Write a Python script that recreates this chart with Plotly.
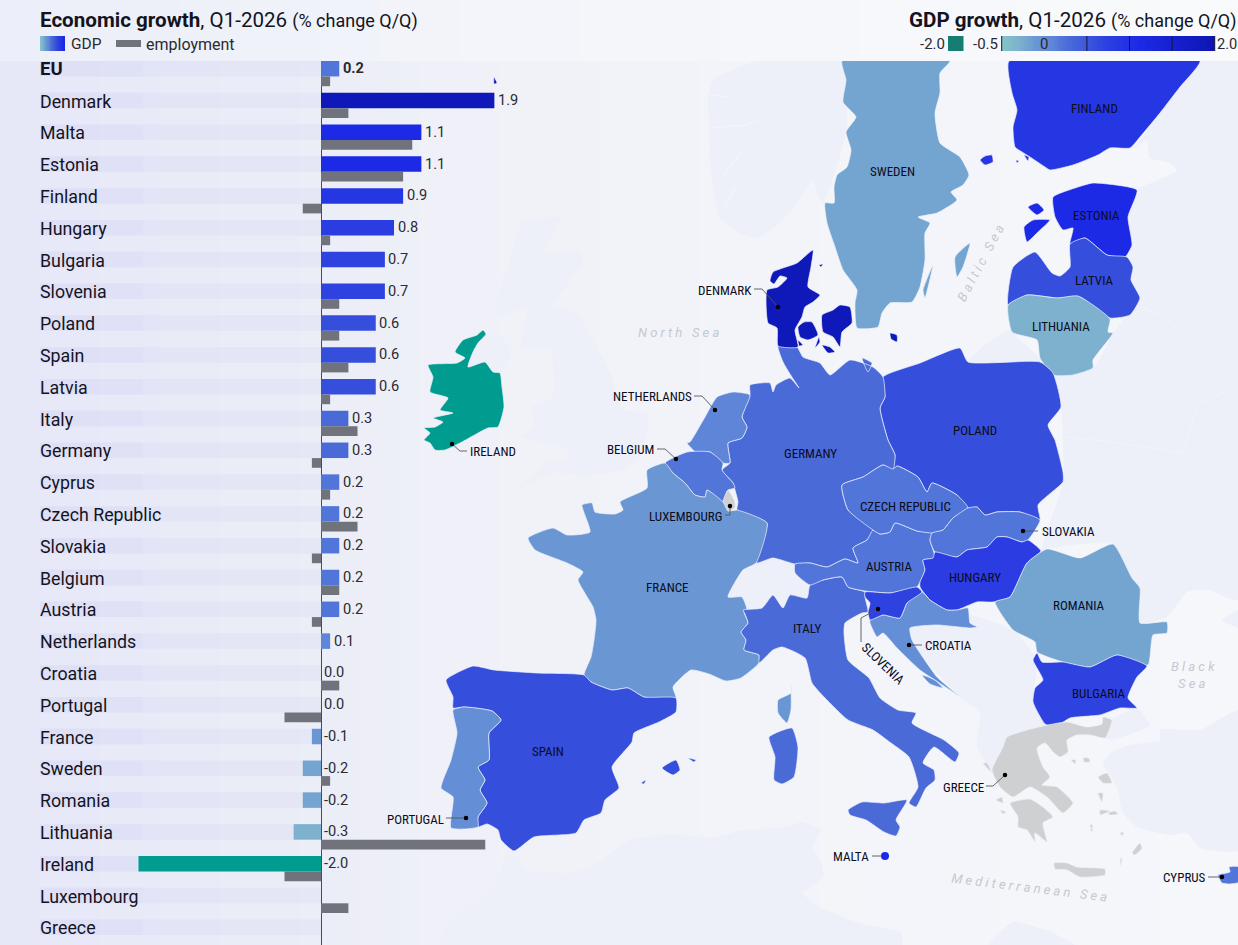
import plotly.graph_objects as go

# ---- bar chart data (% change Q/Q) ----
countries = ["EU", "Denmark", "Malta", "Estonia", "Finland", "Hungary", "Bulgaria", "Slovenia",
             "Poland", "Spain", "Latvia", "Italy", "Germany", "Cyprus", "Czech Republic", "Slovakia",
             "Belgium", "Austria", "Netherlands", "Croatia", "Portugal", "France", "Sweden",
             "Romania", "Lithuania", "Ireland", "Luxembourg", "Greece"]
gdp = [0.2, 1.9, 1.1, 1.1, 0.9, 0.8, 0.7, 0.7, 0.6, 0.6, 0.6, 0.3, 0.3, 0.2, 0.2, 0.2, 0.2, 0.2,
       0.1, 0.0, 0.0, -0.1, -0.2, -0.2, -0.3, -2.0, None, None]
employment = [0.1, 0.3, 1.0, 0.9, -0.2, 0.1, None, 0.2, 0.2, 0.3, 0.1, 0.4, -0.1, 0.1, 0.4, -0.1,
              0.2, -0.1, None, 0.2, -0.4, None, 0.1, None, 1.8, -0.4, 0.3, None]
gdp_by_country = dict(zip(countries, gdp))

# ---- colour ramp used by bars, map and legend ----
ramp_stops = [(-0.5, "#84c6c8"), (-0.3, "#7eb1cd"), (-0.2, "#73a5d0"), (-0.1, "#6a97d3"),
              (0.1, "#5e85d7"), (0.2, "#5175d9"), (0.3, "#4a6ad8"), (0.6, "#354fdc"),
              (0.7, "#2e42e0"), (1.1, "#1c2ae6"), (1.9, "#0f18b8"), (2.0, "#0c12b0")]
LOW_COLOUR = "#009c8f"
NO_DATA_COLOUR = "#cfd0d2"
GREY_BAR = "#70727c"
INK = "#14141f"


def hex_rgb(h):
    return tuple(int(h[i:i + 2], 16) for i in (1, 3, 5))


def value_colour(v):
    if v is None:
        return NO_DATA_COLOUR
    if v < -0.5:
        return LOW_COLOUR
    for (a, ca), (b, cb) in zip(ramp_stops, ramp_stops[1:]):
        if a <= v <= b:
            t = (v - a) / (b - a)
            r = [round(p + (q - p) * t) for p, q in zip(hex_rgb(ca), hex_rgb(cb))]
            return "rgb({},{},{})".format(*r)
    return ramp_stops[-1][1]


# ---- outlines of the map, in map units (x right, y down) ----
finland = [[(1009, 61), (1012, 93), (1017, 110), (1013, 127), (1015, 147), (1022, 152), (1030, 157), (1045, 167),
            (1050, 170), (1073, 165), (1098, 155), (1110, 148), (1130, 148), (1140, 137), (1160, 113), (1180, 87),
            (1200, 61)],
           [(980, 160), (985, 156), (992, 155), (993, 162), (985, 165)],
           [(1024, 155), (1029, 157), (1028, 161)],
           [(1016, 160), (1019, 161), (1017, 163)]]
sweden = [[(842, 61), (846, 80), (843, 102), (856, 117), (846, 132), (851, 150), (847, 167), (837, 175), (834, 187),
           (834, 203), (825, 203), (827, 223), (835, 247), (843, 270), (857, 290), (855, 303), (857, 328), (878, 327),
           (882, 313), (890, 303), (912, 302), (920, 287), (925, 260), (925, 233), (930, 223), (918, 217), (937, 213),
           (957, 200), (951, 192), (963, 185), (969, 175), (960, 157), (940, 143), (935, 113), (940, 93), (940, 73),
           (950, 61)],
          [(955, 257), (970, 243), (963, 267), (957, 277)],
          [(933, 265), (925, 298), (923, 290)]]
estonia = [[(1053, 197), (1075, 188), (1093, 183), (1137, 190), (1128, 217), (1132, 245), (1125, 257), (1107, 255),
            (1085, 238), (1070, 244), (1073, 228), (1063, 230), (1055, 217)],
           [(1028, 207), (1037, 203), (1044, 210), (1037, 215)],
           [(1024, 227), (1033, 220), (1050, 220), (1037, 233), (1027, 242)]]
latvia = [[(1008, 305), (1013, 267), (1035, 252), (1052, 273), (1060, 276), (1070, 267), (1070, 244), (1085, 238),
           (1107, 255), (1127, 257), (1133, 267), (1131, 280), (1140, 298), (1130, 315), (1110, 318), (1080, 297),
           (1057, 298), (1027, 295)]]
lithuania = [[(1008, 305), (1027, 295), (1057, 298), (1078, 296), (1110, 319), (1108, 332), (1113, 333), (1093, 360),
              (1093, 368), (1073, 375), (1053, 375), (1040, 358), (1037, 340), (1012, 332)]]
poland = [[(883, 377), (920, 363), (960, 348), (968, 362), (1040, 362), (1053, 373), (1061, 407), (1048, 425),
           (1055, 440), (1063, 472), (1063, 482), (1038, 505), (1040, 520), (1020, 512), (997, 512), (985, 515),
           (977, 507), (968, 508), (957, 495), (932, 483), (927, 492), (918, 477), (897, 466), (893, 470), (895, 455),
           (888, 440), (880, 408), (885, 397)]]
germany = [[(778, 346), (797, 347), (803, 357), (820, 363), (830, 375), (850, 360), (873, 367), (883, 377), (885, 397),
            (880, 408), (888, 440), (895, 455), (893, 470), (883, 465), (863, 477), (842, 485), (848, 510), (873, 530),
            (867, 540), (853, 548), (858, 563), (845, 559), (827, 567), (810, 563), (795, 564), (773, 558), (756, 563),
            (767, 523), (737, 510), (738, 502), (735, 490), (733, 483), (722, 470), (730, 463), (728, 443), (742, 438),
            (747, 427), (742, 417), (750, 395), (750, 385), (770, 383), (773, 392), (776, 385), (790, 378), (799, 388),
            (790, 374), (783, 362)],
           [(862, 358), (872, 363), (868, 372)]]
netherlands = [[(750, 395), (733, 392), (717, 397), (705, 417), (690, 442), (687, 443), (697, 453), (710, 452),
                (723, 463), (730, 463), (728, 443), (742, 438), (747, 427), (742, 417)]]
belgium = [[(665, 463), (687, 452), (710, 452), (723, 463), (722, 470), (733, 483), (735, 488), (728, 490), (723, 502),
            (707, 490), (705, 497), (695, 495), (685, 483), (673, 473)]]
luxembourg = [[(728, 490), (735, 502), (735, 508), (728, 511), (723, 502)]]
france = [[(665, 463), (647, 470), (647, 488), (620, 502), (623, 510), (615, 514), (595, 512), (592, 503), (582, 505),
           (590, 532), (567, 535), (553, 528), (528, 538), (535, 550), (567, 563), (583, 572), (578, 580), (593, 607),
           (596, 620), (594, 640), (591, 657), (584, 675), (591, 682), (612, 690), (628, 688), (644, 697), (676, 698),
           (673, 687), (691, 670), (709, 674), (726, 681), (741, 678), (759, 663), (759, 655), (744, 650), (746, 640),
           (741, 632), (748, 623), (744, 612), (747, 610), (742, 597), (728, 597), (743, 570), (756, 563), (767, 523),
           (737, 510), (728, 511), (723, 502), (707, 490), (705, 497), (695, 495), (685, 483), (673, 473)],
          [(791, 685), (791, 693), (778, 700), (778, 713), (787, 723), (791, 710)]]
spain = [[(446, 680), (473, 666), (494, 670), (537, 673), (584, 675), (591, 682), (612, 690), (628, 688), (644, 697),
          (676, 698), (676, 712), (659, 722), (634, 733), (632, 742), (612, 767), (619, 788), (605, 800), (601, 813),
          (584, 820), (576, 833), (534, 837), (514, 851), (501, 840), (498, 830), (487, 824), (478, 827), (478, 817),
          (487, 803), (480, 790), (485, 780), (478, 767), (489, 760), (489, 733), (501, 720), (492, 711), (464, 707),
          (453, 708), (453, 697)],
         [(662, 768), (676, 760), (680, 770), (673, 775)],
         [(688, 758), (696, 760), (694, 762)],
         [(641, 783), (646, 780), (644, 784)]]
portugal = [[(464, 707), (492, 711), (501, 720), (489, 733), (489, 760), (478, 767), (485, 780), (480, 790), (487, 803),
             (478, 817), (478, 827), (451, 828), (453, 797), (441, 788), (451, 760), (457, 733), (453, 710)]]
italy = [[(743, 610), (762, 608), (773, 595), (783, 608), (790, 595), (807, 598), (810, 585), (823, 580), (842, 577),
          (848, 587), (865, 592), (865, 597), (868, 612), (862, 613), (845, 623), (844, 633), (848, 660), (869, 678),
          (880, 698), (898, 710), (916, 713), (912, 723), (944, 740), (959, 753), (955, 762), (934, 747), (923, 763),
          (934, 770), (935, 780), (926, 788), (916, 807), (909, 803), (918, 787), (909, 757), (891, 743), (873, 730),
          (848, 720), (825, 698), (812, 683), (805, 658), (782, 647), (773, 650), (759, 663), (759, 655), (744, 650),
          (746, 640), (741, 632), (748, 623), (744, 612)],
         [(769, 737), (792, 728), (798, 747), (794, 777), (782, 784), (774, 780), (775, 757)],
         [(848, 810), (862, 802), (884, 803), (907, 800), (896, 820), (900, 827), (896, 836), (884, 832), (866, 820),
          (850, 815)]]
austria = [[(853, 548), (867, 540), (873, 530), (880, 534), (890, 532), (895, 523), (917, 531), (932, 533), (930, 540),
            (935, 558), (923, 560), (925, 570), (920, 582), (917, 587), (890, 593), (865, 591), (848, 587), (842, 577),
            (823, 580), (810, 585), (795, 573), (795, 564), (810, 563), (827, 567), (845, 559), (858, 563)]]
czech_republic = [[(842, 485), (863, 477), (883, 465), (893, 469), (897, 466), (918, 477), (927, 492), (932, 483),
                   (957, 495), (968, 508), (953, 518), (943, 530), (932, 533), (917, 531), (895, 523), (890, 532),
                   (880, 534), (873, 530), (848, 510)]]
slovakia = [[(968, 508), (977, 507), (985, 515), (997, 512), (1020, 512), (1040, 520), (1028, 540), (1022, 542),
             (1007, 537), (997, 537), (987, 547), (967, 550), (957, 557), (935, 552), (930, 540), (932, 533),
             (943, 530), (953, 518)]]
hungary = [[(935, 552), (957, 557), (967, 550), (987, 547), (997, 537), (1007, 537), (1022, 542), (1028, 540),
            (1041, 551), (1027, 563), (1010, 597), (993, 602), (977, 602), (957, 610), (947, 610), (930, 600),
            (920, 587), (920, 582), (925, 570), (923, 560), (933, 558)]]
romania = [[(1047, 549), (1080, 558), (1113, 544), (1132, 578), (1140, 588), (1140, 623), (1167, 622), (1167, 633),
            (1153, 635), (1148, 665), (1117, 655), (1090, 667), (1063, 662), (1037, 652), (1035, 642), (1013, 630),
            (995, 602), (1010, 597), (1027, 563)]]
bulgaria = [[(1037, 653), (1042, 662), (1063, 662), (1090, 667), (1117, 655), (1147, 666), (1137, 677), (1128, 698),
             (1137, 708), (1120, 708), (1100, 715), (1070, 718), (1055, 727), (1045, 724), (1033, 702), (1035, 688),
             (1043, 680), (1033, 660)]]
croatia = [[(870, 620), (883, 615), (900, 618), (907, 603), (922, 592), (930, 600), (947, 610), (957, 610), (968, 608),
            (970, 623), (977, 627), (970, 628), (937, 625), (910, 628), (912, 640), (920, 653), (937, 677), (960, 697),
            (950, 690), (920, 670), (897, 648), (883, 633), (877, 637), (870, 623)],
           [(922, 675), (935, 680), (943, 688), (930, 684)]]
slovenia = [[(865, 597), (865, 592), (890, 593), (917, 587), (922, 592), (907, 603), (900, 618), (883, 615), (870, 620),
             (868, 612), (870, 603)]]
denmark = [[(813, 250), (811, 267), (808, 287), (820, 295), (813, 302), (805, 307), (802, 317), (795, 330), (798, 347),
            (778, 346), (777, 328), (768, 323), (767, 290), (778, 287), (787, 278), (780, 276), (774, 284), (770, 281),
            (773, 272), (797, 263)],
           [(798, 327), (804, 322), (812, 322), (818, 335), (808, 340), (800, 337)],
           [(822, 315), (833, 310), (840, 305), (850, 307), (852, 323), (842, 332), (840, 347), (833, 337), (823, 332)],
           [(822, 345), (830, 347), (835, 352), (828, 353)],
           [(815, 348), (819, 337), (820, 342)],
           [(798, 340), (803, 345), (799, 346)],
           [(890, 333), (897, 335), (897, 342), (891, 339)],
           [(819, 265), (823, 264), (821, 267)],
           [(494, 77), (497, 83), (494, 84)]]
ireland = [[(428, 365), (457, 363), (465, 358), (455, 352), (463, 340), (477, 335), (483, 330), (486, 334), (478, 343),
            (473, 352), (468, 367), (485, 362), (493, 372), (500, 373), (502, 387), (504, 407), (498, 427), (488, 428),
            (462, 442), (445, 450), (435, 450), (430, 443), (424, 440), (430, 433), (424, 428), (435, 427), (443, 422),
            (433, 418), (453, 413), (440, 410), (448, 398), (430, 392), (433, 377)]]
greece = [[(1043, 726), (1067, 722), (1087, 727), (1102, 724), (1103, 717), (1112, 720), (1110, 728), (1105, 738),
           (1090, 735), (1077, 735), (1067, 740), (1068, 752), (1060, 757), (1053, 752), (1045, 743), (1037, 748),
           (1043, 767), (1050, 777), (1042, 785), (1057, 787), (1073, 803), (1063, 813), (1047, 797), (1030, 787),
           (1013, 797), (1000, 787), (992, 770), (1003, 747), (1007, 737), (1027, 730)],
          [(1010, 803), (1030, 799), (1043, 807), (1053, 817), (1043, 823), (1047, 842), (1035, 833), (1035, 842),
           (1027, 830), (1018, 827), (1018, 817)],
          [(1054, 863), (1067, 863), (1077, 867), (1105, 869), (1105, 875), (1080, 877), (1067, 870), (1055, 869)],
          [(1098, 777), (1107, 773), (1112, 783), (1103, 783)],
          [(1098, 793), (1103, 793), (1102, 802)],
          [(1132, 853), (1140, 843), (1142, 848), (1135, 855)],
          [(983, 763), (987, 763), (992, 773)],
          [(996, 800), (1002, 797), (1003, 803)],
          [(1000, 810), (1006, 812), (1003, 814)],
          [(1071, 760), (1076, 760), (1075, 764)],
          [(1083, 758), (1089, 758), (1090, 762), (1084, 762)],
          [(1100, 810), (1110, 811), (1100, 815)],
          [(1108, 813), (1115, 811), (1118, 814), (1110, 815)],
          [(1090, 825), (1093, 825), (1091, 830)],
          [(1120, 833), (1124, 832), (1122, 836)],
          [(1090, 829), (1093, 827), (1092, 832)],
          [(1120, 860), (1122, 857), (1121, 866)]]
cyprus = [[(1218, 875), (1230, 872), (1229, 867), (1240, 867), (1240, 882), (1230, 884), (1222, 883)]]

# Countries outside the EU, drawn pale underneath
norway = [[(757, 61), (733, 70), (713, 80), (708, 100), (710, 127), (710, 157), (713, 183), (720, 217), (740, 233),
           (757, 238), (780, 223), (797, 203), (813, 180), (817, 193), (823, 203), (846, 132), (842, 61)]]
britain = [[(560, 218), (523, 222), (517, 237), (510, 260), (500, 290), (497, 317), (527, 307), (525, 323), (522, 347),
            (550, 350), (553, 397), (532, 407), (535, 427), (520, 437), (567, 448), (567, 458), (548, 460), (533, 475),
            (513, 492), (553, 473), (587, 475), (623, 470), (640, 457), (648, 427), (647, 413), (623, 410), (617, 397),
            (613, 380), (593, 340), (577, 313), (552, 307), (563, 290), (583, 260), (580, 252), (543, 253)],
           [(486, 334), (498, 335), (512, 350), (500, 372), (493, 372), (485, 362), (468, 367), (473, 352), (478, 343)]]
east_europe = [[(1200, 61), (1240, 61), (1240, 600), (1225, 597), (1210, 590), (1187, 592), (1167, 617), (1140, 623),
                (1113, 544), (1047, 549), (1041, 551), (1063, 482), (1061, 407), (1053, 373), (1040, 358), (1020, 340),
                (1010, 330), (985, 345), (968, 362), (1040, 362), (1093, 368), (1113, 333), (1140, 298), (1131, 280),
                (1133, 267), (1125, 257), (1132, 245), (1128, 217), (1137, 190), (1177, 171), (1170, 163), (1150, 158),
                (1147, 140), (1135, 148), (1160, 113), (1180, 87)],
               [(1222, 620), (1240, 610), (1240, 628)]]
turkey = [[(1240, 710), (1200, 730), (1160, 730), (1160, 740), (1130, 745), (1112, 752), (1103, 763), (1117, 787),
           (1123, 813), (1137, 827), (1170, 835), (1187, 833), (1200, 848), (1240, 850)],
          [(1112, 720), (1137, 708), (1150, 725), (1128, 735), (1112, 740), (1105, 738)]]
western_balkans = [[(947, 610), (1013, 630), (1037, 660), (1033, 702), (1045, 726), (1003, 747), (992, 770), (977, 747),
                    (980, 713), (960, 697), (920, 653), (910, 628)]]
switzerland = [[(728, 597), (743, 570), (756, 563), (773, 558), (795, 564), (795, 573), (810, 585), (807, 598),
                (790, 595), (783, 608), (773, 595), (762, 608), (745, 610), (742, 597)]]
north_africa = [[(441, 947), (451, 917), (491, 893), (507, 855), (517, 857), (526, 870), (573, 873), (601, 860),
                 (630, 840), (666, 835), (716, 837), (744, 830), (787, 827), (801, 822), (821, 830), (812, 847),
                 (821, 863), (823, 877), (803, 893), (819, 907), (859, 923), (901, 933), (901, 947)],
                [(988, 947), (1013, 922), (1053, 933), (1077, 947)]]
belarus_border = [(1140, 306), (1163, 317), (1190, 338), (1225, 392), (1198, 403), (1183, 453), (1157, 449), (1113, 442),
                  (1063, 437)]
norway_fjords = [[(710, 95), (730, 97)], [(710, 128), (747, 125), (757, 120)], [(722, 177), (743, 150)],
                 [(725, 207), (735, 187)]]

eu_outlines = {"Finland": finland, "Sweden": sweden, "Estonia": estonia, "Latvia": latvia, "Lithuania": lithuania,
               "Poland": poland, "Germany": germany, "Netherlands": netherlands, "Belgium": belgium,
               "Luxembourg": luxembourg, "France": france, "Spain": spain, "Portugal": portugal, "Italy": italy,
               "Austria": austria, "Czech Republic": czech_republic, "Slovakia": slovakia, "Hungary": hungary,
               "Romania": romania, "Bulgaria": bulgaria, "Croatia": croatia, "Slovenia": slovenia,
               "Denmark": denmark, "Ireland": ireland, "Greece": greece, "Cyprus": cyprus}
other_land = [norway, britain, east_europe, turkey, western_balkans, switzerland, north_africa]

# Name labels placed directly on the countries
inline_labels = {"FINLAND": (1094, 108), "SWEDEN": (892, 171), "ESTONIA": (1096, 215), "LATVIA": (1094, 280),
                 "LITHUANIA": (1061, 326), "POLAND": (975, 430), "GERMANY": (810, 453),
                 "CZECH REPUBLIC": (905, 506), "AUSTRIA": (889, 566), "HUNGARY": (975, 577), "ROMANIA": (1079, 605),
                 "BULGARIA": (1099, 693), "FRANCE": (667, 587), "ITALY": (807, 628), "SPAIN": (548, 751)}
# Called-out labels: text, text anchor, alignment, leader line ending at the dot
callouts = [("DENMARK", (752, 290), "right", [(754, 289), (762, 289), (778, 307)]),
            ("NETHERLANDS", (692, 396), "right", [(694, 396), (702, 396), (715, 410)]),
            ("BELGIUM", (654, 449), "right", [(657, 449), (665, 449), (676, 459)]),
            ("LUXEMBOURG", (722, 516), "right", [(725, 515), (730, 515), (730, 506)]),
            ("IRELAND", (470, 451), "left", [(467, 451), (460, 451), (452, 444)]),
            ("SLOVAKIA", (1042, 531), "left", [(1038, 531), (1023, 531)]),
            ("CROATIA", (925, 645), "left", [(922, 645), (909, 645)]),
            ("PORTUGAL", (444, 819), "right", [(446, 818), (466, 818)]),
            ("GREECE", (984, 787), "right", [(986, 786), (993, 786), (1005, 775)]),
            ("CYPRUS", (1206, 877), "right", [(1208, 877), (1222, 877)])]
slovenia_leader = [(861, 642), (861, 618), (878, 609)]
malta_leader = [(872, 856), (881, 856)]
malta_point = (885, 856)

PAGE_W, PAGE_H = 1238, 945
HEADER_H = 61
ZERO_PX, PX_PER_UNIT = 321, 91.25
ROW_TOP_PX, ROW_STEP = 68.7, 31.8
LABEL_FONT = "Roboto Condensed, Liberation Sans Narrow, Roboto"
TEXT_FONT = "Roboto"

fig = go.Figure()


def rings_xy(rings):
    xs, ys = [], []
    for ring in rings:
        for x, y in ring + [ring[0]]:
            xs.append(x)
            ys.append(y)
        xs.append(None)
        ys.append(None)
    return xs, ys


# Sea background, fading from lavender on the left
bg_edges = [PAGE_W * i / 62 for i in range(63)]
bg_mid = [(a + b) / 2 for a, b in zip(bg_edges, bg_edges[1:])]
fig.add_trace(go.Heatmap(x=bg_edges, y=[0, PAGE_H], z=[bg_mid], zmin=0, zmax=PAGE_W, showscale=False,
                         hoverinfo="skip",
                         colorscale=[[0, "#e6e8f8"], [0.26, "#ebedf7"], [0.37, "#f0f1f8"], [0.6, "#f2f4f9"],
                                     [1, "#f6f7fb"]]))

for rings in other_land:
    xs, ys = rings_xy(rings)
    fig.add_trace(go.Scatter(x=xs, y=ys, mode="lines", fill="toself", fillcolor="#edeff9",
                             line=dict(width=0, shape="spline", smoothing=0.5), hoverinfo="skip", showlegend=False))
fig.add_trace(go.Scatter(x=[p[0] for p in belarus_border], y=[p[1] for p in belarus_border], mode="lines",
                         line=dict(color="#f4f5fb", width=1), hoverinfo="skip", showlegend=False))
for fjord in norway_fjords:
    fig.add_trace(go.Scatter(x=[p[0] for p in fjord], y=[p[1] for p in fjord], mode="lines",
                             line=dict(color="#f2f4f9", width=1.8), hoverinfo="skip", showlegend=False))

for name, rings in eu_outlines.items():
    xs, ys = rings_xy(rings)
    fig.add_trace(go.Scatter(x=xs, y=ys, mode="lines", fill="toself", fillcolor=value_colour(gdp_by_country[name]),
                             line=dict(color="#eef1fa", width=0.7, shape="spline", smoothing=0.5), name=name,
                             hoverinfo="name", showlegend=False))

# Leader lines and their dots
for _, _, _, leader in callouts + [("SLOVENIA", None, None, slovenia_leader)]:
    fig.add_trace(go.Scatter(x=[p[0] for p in leader], y=[p[1] for p in leader], mode="lines",
                             line=dict(color="#55565f", width=0.9), hoverinfo="skip", showlegend=False))
    fig.add_trace(go.Scatter(x=[leader[-1][0]], y=[leader[-1][1]], mode="markers",
                             marker=dict(color="#000000", size=4.5), hoverinfo="skip", showlegend=False))
fig.add_trace(go.Scatter(x=[p[0] for p in malta_leader], y=[p[1] for p in malta_leader], mode="lines",
                         line=dict(color="#55565f", width=0.9), hoverinfo="skip", showlegend=False))
fig.add_trace(go.Scatter(x=[malta_point[0]], y=[malta_point[1]], mode="markers",
                         marker=dict(color=value_colour(gdp_by_country["Malta"]), size=8),
                         hoverinfo="skip", showlegend=False))

# ---- bars ----
GDP_H, EMP_H = 15.5, 9.7
gdp_w, emp_w = GDP_H / ROW_STEP, EMP_H / ROW_STEP
gdp_off, emp_off = -gdp_w / 2, 7.8 / ROW_STEP
band_left = (40 - ZERO_PX) / PX_PER_UNIT
band_mid = (143 - ZERO_PX) / PX_PER_UNIT
row_count = len(countries)

# Pale strip behind each row, a little darker on its left part
fig.add_trace(go.Bar(x=[band_left] * row_count, y=countries, orientation="h", xaxis="x2", yaxis="y2",
                     width=gdp_w, offset=gdp_off, marker=dict(color="rgba(214,217,245,0.32)", line=dict(width=0)),
                     hoverinfo="skip", showlegend=False))
fig.add_trace(go.Bar(x=[band_mid - band_left] * row_count, base=[band_left] * row_count, y=countries, orientation="h",
                     xaxis="x2", yaxis="y2", width=gdp_w, offset=gdp_off,
                     marker=dict(color="rgba(214,217,245,0.28)", line=dict(width=0)),
                     hoverinfo="skip", showlegend=False))
fig.add_trace(go.Bar(x=gdp, y=countries, orientation="h", xaxis="x2", yaxis="y2", width=gdp_w, offset=gdp_off,
                     marker=dict(color=[value_colour(v) for v in gdp], line=dict(width=0)),
                     name="GDP", showlegend=False))
fig.add_trace(go.Bar(x=employment, y=countries, orientation="h", xaxis="x2", yaxis="y2", width=emp_w, offset=emp_off,
                     marker=dict(color=GREY_BAR, line=dict(width=0)), name="employment", showlegend=False))

# ---- header band and gradient keys, on a layer above the map ----
head_edges = [PAGE_W * i / 62 for i in range(63)]
head_mid = [(a + b) / 2 for a, b in zip(head_edges, head_edges[1:])]
fig.add_trace(go.Heatmap(x=head_edges, y=[0, HEADER_H], z=[head_mid], zmin=0, zmax=PAGE_W, showscale=False,
                         hoverinfo="skip", xaxis="x3", yaxis="y3", colorscale=[[0, "#eceef9"], [0.4, "#f3f5fa"],
                                                                               [1, "#f8fafb"]]))
ramp_colorscale = [[(v + 0.5) / 2.5, c] for v, c in ramp_stops]
KEY_STEPS = 85
KEY_LEFT, KEY_RIGHT, KEY_TOP, KEY_BOTTOM = 1001.7, 1214.7, 36, 51
key_edges = [KEY_LEFT + (KEY_RIGHT - KEY_LEFT) * i / KEY_STEPS for i in range(KEY_STEPS + 1)]
key_levels = [-0.5 + 2.5 * (i + 0.5) / KEY_STEPS for i in range(KEY_STEPS)]
fig.add_trace(go.Heatmap(x=key_edges, y=[KEY_TOP, KEY_BOTTOM], z=[key_levels], zmin=-0.5, zmax=2, showscale=False,
                         colorscale=ramp_colorscale, hoverinfo="skip", xaxis="x3", yaxis="y3"))
swatch_edges = [40 + 25 * i / 25 for i in range(26)]
swatch_levels = [-0.5 + 1.7 * (i + 0.5) / 25 for i in range(25)]
fig.add_trace(go.Heatmap(x=swatch_edges, y=[KEY_TOP, KEY_BOTTOM], z=[swatch_levels], zmin=-0.5, zmax=2, showscale=False,
                         colorscale=ramp_colorscale, hoverinfo="skip", xaxis="x3", yaxis="y3"))

shapes = [
    dict(type="rect", xref="x3", yref="y3", x0=948, x1=963.5, y0=KEY_TOP, y1=KEY_BOTTOM, fillcolor="#167d72",
         line=dict(width=0)),
    dict(type="rect", xref="x3", yref="y3", x0=116, x1=141, y0=40, y1=47, fillcolor=GREY_BAR, line=dict(width=0)),
]
for v in [-0.5, 0.5, 1.0, 1.5, 2.0]:
    px = KEY_LEFT + (v + 0.5) * (KEY_RIGHT - KEY_LEFT) / 2.5
    shapes.append(dict(type="line", xref="x3", yref="y3", x0=px, x1=px, y0=KEY_TOP, y1=KEY_BOTTOM,
                       line=dict(color="#14143a", width=1)))

# ---- text annotations ----
annotations = []


def note(text, x, y, size, anchor="center", family=TEXT_FONT, color=INK, angle=0):
    annotations.append(dict(text=text, x=x, y=y, xref="x3", yref="y3", xanchor=anchor, yanchor="middle", showarrow=False,
                            textangle=angle, font=dict(family=family, size=size, color=color),
                            borderpad=0, borderwidth=0, align=anchor if anchor != "center" else "center"))


# Country names down the left edge
for i, c in enumerate(countries):
    row_y = ROW_TOP_PX + ROW_STEP * i + 0.6
    if c == "EU":
        note("<b>EU</b>", 40, row_y, 18.5, "left")
    else:
        note(c, 40, row_y, 17.8, "left")

# Value labels after each GDP bar, positioned through the bar axes
for c, v in zip(countries, gdp):
    if v is None:
        continue
    label = f"{v:.1f}"
    annotations.append(dict(text=f"<b>{label}</b>" if c == "EU" else label, x=max(v, 0), y=c, xref="x2", yref="y2",
                            xanchor="left", yanchor="middle", showarrow=False, xshift=3.6 if v > 0 else 3,
                            borderpad=0, borderwidth=0, yshift=0.5,
                            font=dict(family=TEXT_FONT, size=14.6, color="#2a2a33")))

sub = "<span style='font-size:18px'>(% change Q/Q)</span>"
note(f"<b>Economic growth</b>, Q1-2026 {sub}", 40, 20, 20.6, "left")
note(f"<b>GDP growth</b>, Q1-2026 {sub}", 1237, 20, 20.6, "right")
note("GDP", 71, 44, 15.5, "left", color="#2a2a33")
note("employment", 146, 44, 16, "left", color="#2a2a33")
note("-2.0", 945, 44, 15, "right", color="#2a2a33")
note("-0.5", 998, 44, 15, "right", color="#2a2a33")
note("0", 1044, 44, 15, color="#2a2a33")
note("2.0", 1217, 44, 14.6, "left", color="#2a2a33")
note("2026", 568, -1, 11, color="#55565f")

MAP_SIZE = 13
for label, (x, y) in inline_labels.items():
    note(label, x, y, MAP_SIZE, family=LABEL_FONT, color="#0c0c1c")
for label, (x, y), anchor, _ in callouts:
    note(label, x, y, MAP_SIZE, anchor, family=LABEL_FONT, color="#0c0c1c")
note("SLOVENIA", 883, 663, MAP_SIZE, family=LABEL_FONT, color="#0c0c1c", angle=44)
note("MALTA", 869, 856, MAP_SIZE, "right", family=LABEL_FONT, color="#0c0c1c")

SEA_GREY = "#c6c8d0"
SEA_SIZE = 13
note("<i>N o r t h   S e a</i>", 678, 332, SEA_SIZE, color=SEA_GREY)
note("<i>B a l t i c   S e a</i>", 980, 263, SEA_SIZE, color=SEA_GREY, angle=-62)
note("<i>B l a c k</i>", 1193, 666, SEA_SIZE, color=SEA_GREY)
note("<i>S e a</i>", 1192, 683, SEA_SIZE, color=SEA_GREY)
note("<i>M e d i t e r r a n e a n   S e a</i>", 1029, 887, SEA_SIZE, color=SEA_GREY, angle=7)

page_axis = dict(visible=False, fixedrange=True, domain=[0, 1])
row_top_index = (HEADER_H - ROW_TOP_PX) / ROW_STEP
row_bottom_index = (PAGE_H - ROW_TOP_PX) / ROW_STEP

fig.update_layout(
    width=PAGE_W, height=PAGE_H, margin=dict(l=0, r=0, t=0, b=0, pad=0), autosize=False,
    paper_bgcolor="#f2f4f9", plot_bgcolor="rgba(0,0,0,0)", barmode="overlay", hovermode="closest",
    showlegend=False, shapes=shapes, annotations=annotations,
    xaxis=dict(page_axis, range=[0, PAGE_W]),
    yaxis=dict(page_axis, range=[PAGE_H, 0]),
    xaxis2=dict(range=[-ZERO_PX / PX_PER_UNIT, (PAGE_W - ZERO_PX) / PX_PER_UNIT], domain=[0, 1], anchor="y2",
                showgrid=False, showticklabels=False, ticks="", showline=False, fixedrange=True,
                zeroline=True, zerolinecolor="#4a4b55", zerolinewidth=1.2),
    yaxis2=dict(type="category", categoryorder="array", categoryarray=countries, anchor="x2",
                range=[row_bottom_index, row_top_index], domain=[0, 1 - HEADER_H / PAGE_H], showgrid=False,
                showticklabels=False, ticks="", showline=False, zeroline=False, fixedrange=True),
    xaxis3=dict(page_axis, range=[0, PAGE_W], anchor="y3"),
    yaxis3=dict(page_axis, range=[PAGE_H, 0], anchor="x3"),
)

fig.write_html("out.html", config=dict(displayModeBar=False))
